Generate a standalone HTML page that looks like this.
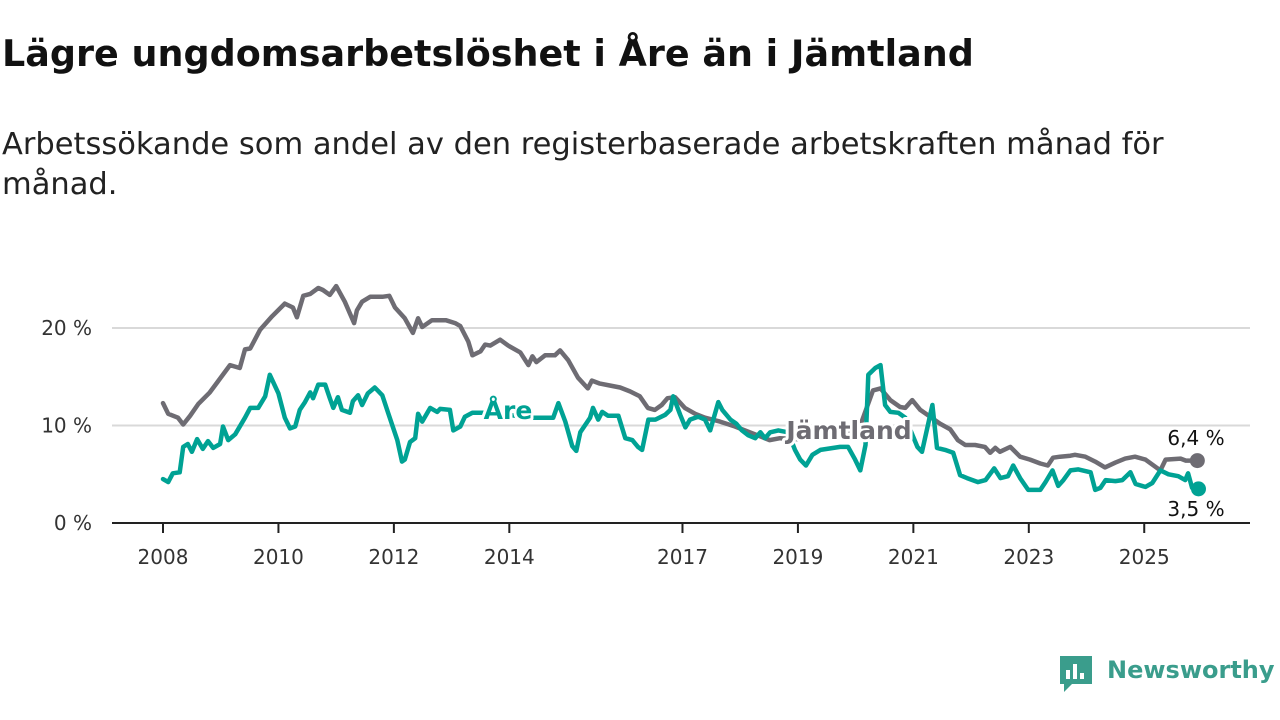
<!DOCTYPE html>
<html><head><meta charset="utf-8">
<style>
body{margin:0;width:1280px;height:720px;background:#fff;overflow:hidden;font-family:"DejaVu Sans","Liberation Sans",sans-serif;color:#111;position:relative}
#title{position:absolute;left:2px;top:32px;font-size:36.5px;font-weight:bold;margin:0;white-space:nowrap}
#sub{position:absolute;left:2px;top:125px;font-size:30.5px;line-height:40px;color:#222;white-space:nowrap}
svg{position:absolute;left:0;top:0}
#chart text{font-family:"DejaVu Sans","Liberation Sans",sans-serif}
#logo{position:absolute;left:1058px;top:654px}
#logo-text{position:absolute;left:1107px;top:656px;font-size:24px;font-weight:bold;color:#3a9d8c}
</style></head><body>
<h1 id="title">Lägre ungdomsarbetslöshet i Åre än i Jämtland</h1>
<div id="sub">Arbetssökande som andel av den registerbaserade arbetskraften månad för<br>månad.</div>
<svg id="chart" width="1280" height="720"></svg>
<svg id="logo" width="36" height="40" viewBox="0 0 36 40">
<path d="M2 2h32v28H14l-8 8v-8H2z" fill="#3a9d8c"/>
<rect x="8" y="16" width="4" height="9" fill="#fff"/><rect x="15" y="10" width="4" height="15" fill="#fff"/><rect x="22" y="19" width="4" height="6" fill="#fff"/>
</svg>
<div id="logo-text">Newsworthy</div>
<script>
const yTicks=[0,10,20];
const yTickLabels=["0 %","10 %","20 %"];
const xTicks=[2008,2010,2012,2014,2017,2019,2021,2023,2025];
const jamtDates=[2008.00,2008.09,2008.26,2008.35,2008.47,2008.61,2008.81,2008.95,2009.16,2009.33,2009.42,2009.51,2009.68,2009.89,2010.11,2010.25,2010.32,2010.43,2010.55,2010.69,2010.77,2010.89,2011.00,2011.15,2011.31,2011.36,2011.45,2011.59,2011.80,2011.92,2012.02,2012.19,2012.33,2012.42,2012.49,2012.66,2012.90,2013.06,2013.15,2013.29,2013.36,2013.50,2013.58,2013.67,2013.84,2013.98,2014.19,2014.33,2014.40,2014.47,2014.62,2014.79,2014.88,2015.02,2015.19,2015.36,2015.43,2015.57,2015.74,2015.92,2016.09,2016.26,2016.40,2016.52,2016.64,2016.74,2016.87,2017.04,2017.22,2017.39,2017.65,2017.91,2018.08,2018.34,2018.51,2018.69,2019.0,2019.4,2019.8,2020.08,2020.30,2020.43,2020.60,2020.77,2020.86,2020.98,2021.12,2021.29,2021.46,2021.64,2021.77,2021.90,2022.07,2022.24,2022.33,2022.42,2022.50,2022.68,2022.85,2023.02,2023.20,2023.33,2023.42,2023.54,2023.72,2023.80,2023.98,2024.15,2024.32,2024.50,2024.67,2024.84,2025.02,2025.28,2025.37,2025.63,2025.72,2025.92];
const jamtValues=[12.3,11.2,10.8,10.1,11.0,12.2,13.4,14.5,16.2,15.9,17.8,17.9,19.8,21.2,22.5,22.1,21.1,23.3,23.5,24.1,23.9,23.4,24.3,22.7,20.5,21.8,22.7,23.2,23.2,23.3,22.1,21.0,19.5,21.0,20.1,20.8,20.8,20.5,20.2,18.6,17.2,17.6,18.3,18.2,18.8,18.2,17.5,16.2,17.1,16.5,17.2,17.2,17.7,16.7,14.9,13.8,14.6,14.3,14.1,13.9,13.5,13.0,11.8,11.6,12.1,12.8,12.9,11.8,11.2,10.8,10.4,9.9,9.5,8.9,8.5,8.7,8.6,8.9,9.3,10.0,13.6,13.8,12.6,11.9,11.8,12.6,11.6,10.9,10.2,9.6,8.5,8.0,8.0,7.8,7.2,7.7,7.3,7.8,6.8,6.5,6.1,5.9,6.7,6.8,6.9,7.0,6.8,6.3,5.7,6.2,6.6,6.8,6.5,5.4,6.5,6.6,6.4,6.4];
const areDates=[2008.00,2008.09,2008.17,2008.29,2008.35,2008.43,2008.50,2008.59,2008.69,2008.78,2008.87,2008.99,2009.04,2009.13,2009.25,2009.42,2009.51,2009.65,2009.77,2009.85,2010.00,2010.11,2010.20,2010.29,2010.37,2010.46,2010.55,2010.60,2010.69,2010.81,2010.89,2010.95,2011.03,2011.10,2011.24,2011.29,2011.38,2011.45,2011.55,2011.67,2011.80,2011.90,2012.06,2012.14,2012.19,2012.28,2012.37,2012.42,2012.49,2012.63,2012.75,2012.80,2012.97,2013.03,2013.15,2013.23,2013.36,2013.56,2013.81,2014.01,2014.27,2014.53,2014.76,2014.85,2014.97,2015.09,2015.16,2015.23,2015.40,2015.45,2015.54,2015.61,2015.71,2015.89,2016.01,2016.13,2016.23,2016.30,2016.41,2016.53,2016.70,2016.79,2016.84,2016.96,2017.05,2017.13,2017.27,2017.39,2017.48,2017.62,2017.69,2017.83,2017.93,2018.03,2018.14,2018.26,2018.35,2018.43,2018.52,2018.66,2018.83,2018.95,2019.04,2019.14,2019.25,2019.39,2019.73,2019.87,2019.99,2020.08,2020.17,2020.22,2020.34,2020.43,2020.51,2020.60,2020.74,2020.86,2021.07,2021.15,2021.33,2021.41,2021.55,2021.69,2021.81,2021.93,2022.12,2022.25,2022.40,2022.51,2022.64,2022.73,2022.85,2022.99,2023.20,2023.29,2023.41,2023.51,2023.60,2023.72,2023.86,2024.07,2024.15,2024.24,2024.33,2024.50,2024.62,2024.76,2024.85,2025.02,2025.14,2025.28,2025.42,2025.59,2025.71,2025.76,2025.83,2025.94];
const areValues=[4.5,4.2,5.1,5.2,7.8,8.1,7.3,8.6,7.6,8.4,7.7,8.1,9.9,8.5,9.1,10.8,11.8,11.8,13.0,15.2,13.3,10.8,9.7,9.9,11.6,12.4,13.4,12.8,14.2,14.2,12.8,11.8,12.9,11.6,11.3,12.5,13.1,12.1,13.3,13.9,13.1,11.3,8.5,6.3,6.5,8.3,8.7,11.2,10.4,11.8,11.4,11.7,11.6,9.5,9.9,10.9,11.3,11.3,11.6,11.1,10.8,10.8,10.8,12.3,10.4,7.9,7.4,9.3,10.8,11.8,10.6,11.4,11.0,11.0,8.7,8.5,7.8,7.5,10.6,10.6,11.1,11.6,13.0,11.1,9.8,10.6,10.9,10.6,9.5,12.4,11.6,10.6,10.2,9.5,9.0,8.7,9.3,8.7,9.3,9.5,9.3,7.5,6.5,5.9,7.0,7.5,7.8,7.8,6.5,5.4,8.0,15.2,15.9,16.2,12.1,11.4,11.3,10.8,7.8,7.3,12.1,7.7,7.5,7.2,4.9,4.6,4.2,4.4,5.6,4.6,4.8,5.9,4.6,3.4,3.4,4.2,5.4,3.8,4.4,5.4,5.5,5.2,3.4,3.6,4.4,4.3,4.4,5.2,4.0,3.7,4.1,5.4,5.0,4.8,4.4,5.1,3.6,3.5];
const NS="http://www.w3.org/2000/svg";
const svg=document.getElementById('chart');
const X=y=>163+(y-2008)*57.72;
const Y=v=>523-v*9.75;
function mk(t,a,p){const e=document.createElementNS(NS,t);for(const k in a)e.setAttribute(k,a[k]);(p||svg).appendChild(e);return e;}
yTicks.forEach((t,i)=>{
  if(t>0){const g=mk('line',{x1:112,x2:1250,y1:Y(t),y2:Y(t),stroke:'#d9d9d9','stroke-width':2});
  
  }
  const l=mk('text',{x:92,y:Y(t)+7,'text-anchor':'end','font-size':20,fill:'#333'});l.textContent=yTickLabels[i];
  
  
});
const base=mk('line',{x1:112,x2:1250,y1:523,y2:523,stroke:'#222','stroke-width':2});


xTicks.forEach(t=>{
  const tk=mk('line',{x1:X(t),x2:X(t),y1:523,y2:533,stroke:'#222','stroke-width':2});
  
  
  const l=mk('text',{x:X(t),y:564,'text-anchor':'middle','font-size':20,fill:'#333'});l.textContent=t;
  
  
});
function line(d,v,c,name){
  const p=mk('path',{d:d.map((x,i)=>(i?'L':'M')+X(x).toFixed(1)+' '+Y(v[i]).toFixed(1)).join(''),fill:'none',stroke:c,'stroke-width':4.5,'stroke-linejoin':'round','stroke-linecap':'round'});
  
  
  const n=d.length-1;
  const dot=mk('circle',{cx:X(d[n]),cy:Y(v[n]),r:7.5,fill:c});
  
  
}
line(jamtDates,jamtValues,'#6e6c73','jamtland-line');
line(areDates,areValues,'#00a294','are-line');
function lab(x,y,t,c,fs,w,name){
  const e=mk('text',{x:x,y:y,'font-size':fs,'font-weight':w,fill:c,stroke:'#fff','stroke-width':6,'paint-order':'stroke','stroke-linejoin':'round','text-anchor':'middle'});
  e.textContent=t;
  
  
}
lab(508,419,'Åre','#00a294',25,'bold','are-series-label');
lab(849,439,'Jämtland','#6e6c73',25,'bold','jamtland-series-label');
lab(1196,445,'6,4 %','#111',20,'normal','jamtland-end-value');
lab(1196,516,'3,5 %','#111',20,'normal','are-end-value');
</script>
</body></html>
